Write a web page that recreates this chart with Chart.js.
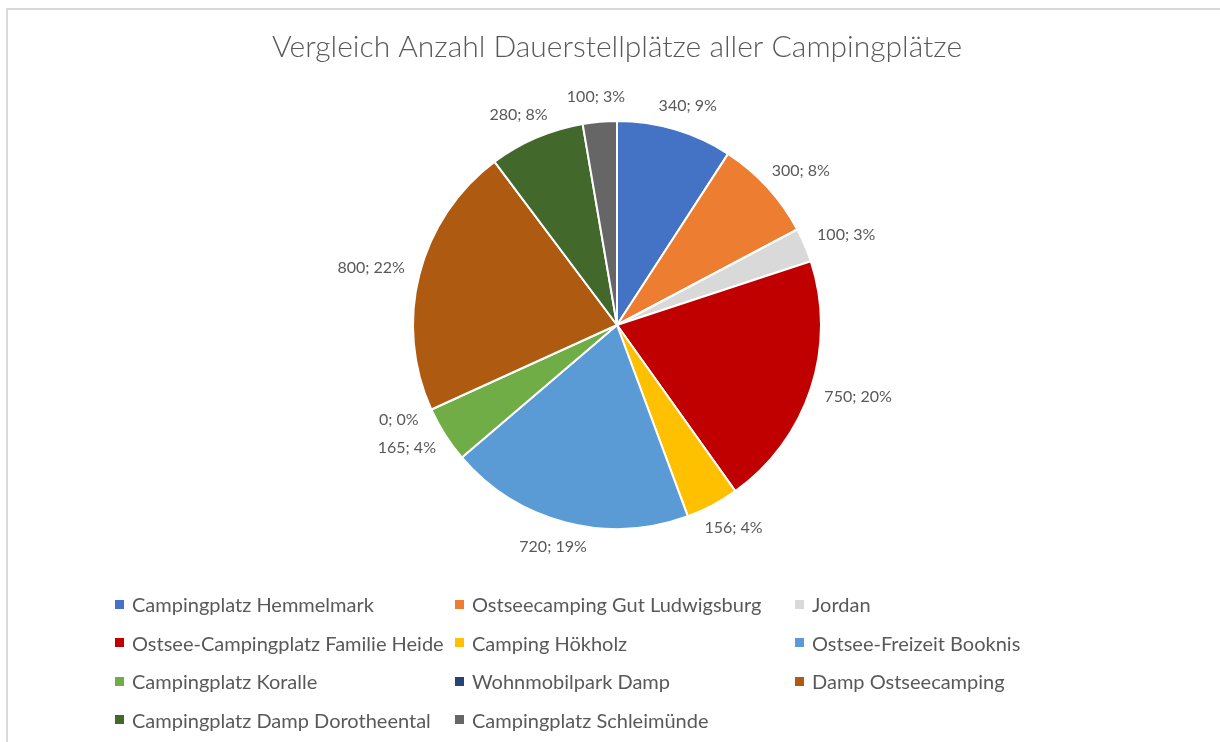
<!DOCTYPE html>
<html>
<head>
<meta charset="utf-8">
<script src="https://cdn.jsdelivr.net/npm/chart.js@4/dist/chart.umd.min.js"></script>
<style>
  html, body { margin: 0; padding: 0; background: #ffffff; }
  #wrap { position: relative; width: 1220px; height: 742px; overflow: hidden; background: #fff; }
  #frame { position: absolute; left: 6px; top: 8px; right: -10px; bottom: -10px; border-left: 2px solid #d9d9d9; border-top: 2px solid #d9d9d9; }
  #c { position: absolute; left: 0; top: 0; }
  #legend { position: absolute; left: 115px; top: 585px; display: grid; grid-template-columns: 340px 340px 340px; grid-auto-rows: 38.5px;
            font-family: Lato, "Open Sans", sans-serif; font-size: 20px; color: #595959; }
  .item { display: flex; align-items: center; white-space: nowrap; }
  .sw { width: 9px; height: 9px; margin-right: 8px; flex: none; }
</style>
</head>
<body>
<div id="wrap">
  <div id="frame"></div>
  <canvas id="c" width="1220" height="742"></canvas>
  <div id="legend"></div>
</div>
<script>
const title = "Vergleich Anzahl Dauerstellplätze aller Campingplätze";
const categories = [
  "Campingplatz Hemmelmark",
  "Ostseecamping Gut Ludwigsburg",
  "Jordan",
  "Ostsee-Campingplatz Familie Heide",
  "Camping Hökholz",
  "Ostsee-Freizeit Booknis",
  "Campingplatz Koralle",
  "Wohnmobilpark Damp",
  "Damp Ostseecamping",
  "Campingplatz Damp Dorotheental",
  "Campingplatz Schleimünde"
];
const values = [340, 300, 100, 750, 156, 720, 165, 0, 800, 280, 100];
const colors = ["#4472c4", "#ed7d31", "#d9d9d9", "#c00000", "#ffc000", "#5b9bd5",
                "#70ad47", "#264478", "#ae5a10", "#43682b", "#666666"];

const labelPlugin = {
  id: "outsideLabels",
  afterDatasetsDraw(chart) {
    const ctx = chart.ctx;
    const meta = chart.getDatasetMeta(0);
    const data = chart.data.datasets[0].data;
    const total = data.reduce((a, b) => a + b, 0);
    ctx.save();
    ctx.font = "16px Lato, 'Open Sans', sans-serif";
    ctx.fillStyle = "#595959";
    ctx.textAlign = "center";
    ctx.textBaseline = "middle";
    const h = 18;
    meta.data.forEach((arc, i) => {
      const p = arc.getProps(["x", "y", "startAngle", "endAngle", "outerRadius"], true);
      const mid = (p.startAngle + p.endAngle) / 2;
      const r = p.outerRadius + 16;
      const px = p.x + Math.cos(mid) * r;
      const py = p.y + Math.sin(mid) * r;
      const txt = data[i] + "; " + Math.round(data[i] / total * 100) + "%";
      const w = ctx.measureText(txt).width;
      const cx = px + Math.cos(mid) * w / 2;
      const cy = py + Math.sin(mid) * h / 2;
      ctx.fillText(txt, cx, cy);
    });
    ctx.restore();
  }
};

const chart = new Chart(document.getElementById("c"), {
  type: "pie",
  data: {
    labels: categories,
    datasets: [{
      data: values,
      backgroundColor: colors,
      borderColor: "#ffffff",
      borderWidth: 2
    }]
  },
  options: {
    responsive: false,
    animation: false,
    radius: 204,
    layout: { padding: { left: 14, right: 0, top: 0, bottom: 214 } },
    plugins: {
      legend: { display: false },
      tooltip: { enabled: false },
      title: {
        display: true,
        text: title,
        color: "#595959",
        font: { family: "Lato, 'Open Sans', sans-serif", size: 30, weight: "300", lineHeight: 1.2 },
        padding: { top: 29, bottom: 57 }
      }
    }
  },
  plugins: [labelPlugin]
});

const legend = document.getElementById("legend");
categories.forEach((name, i) => {
  const d = document.createElement("div");
  d.className = "item";
  const s = document.createElement("span");
  s.className = "sw";
  s.style.background = colors[i];
  const t = document.createElement("span");
  t.textContent = name;
  d.appendChild(s); d.appendChild(t);
  legend.appendChild(d);
});
</script>
</body>
</html>
